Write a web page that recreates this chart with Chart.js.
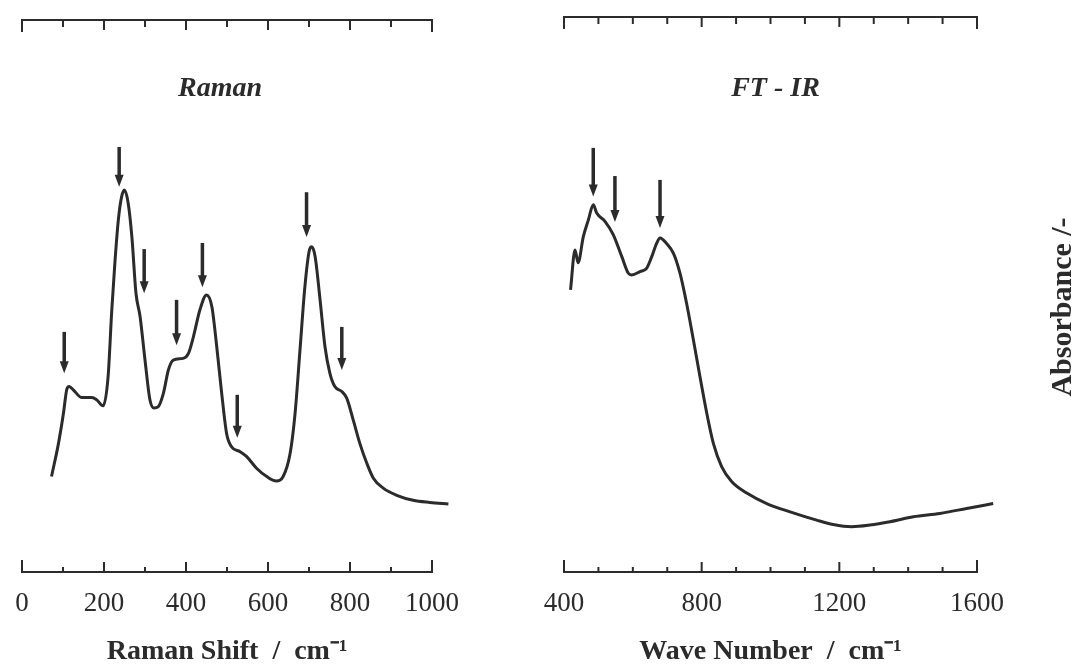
<!DOCTYPE html>
<html>
<head>
<meta charset="utf-8">
<title>Raman / FT-IR spectra</title>
<script src="https://cdn.jsdelivr.net/npm/chart.js@4.4.1/dist/chart.umd.min.js"></script>
<style>
  html, body { margin: 0; padding: 0; background: #fff; }
  #wrap { position: relative; width: 1078px; height: 666px; overflow: hidden; }
  .panel { position: absolute; top: 0; }
  #ramanBox { left: 0; }
  #irBox { left: 540px; }
</style>
</head>
<body>
<div id="wrap">
  <div class="panel" id="ramanBox"><canvas id="ramanChart" width="540" height="666"></canvas></div>
  <div class="panel" id="irBox"><canvas id="irChart" width="538" height="666"></canvas></div>
</div>
<script>
// Raman spectrum (arbitrary intensity, 0-100 of the plot height)
const ramanShift = [72, 89, 101, 109, 115, 125, 146, 170, 182, 198,
  210, 219, 227, 235, 243, 250, 259, 268, 278, 288,
  300, 312, 322, 332, 345, 357, 369, 393, 406, 418,
  434, 450, 463, 475, 487, 499, 511, 532, 548, 572,
  597, 620, 637, 654, 666, 678, 690, 701, 707, 715,
  727, 739, 751, 763, 780, 792, 808, 824, 841, 857,
  881, 914, 954, 995, 1040];
const ramanIntensity = [17.3, 23.3, 28.7, 33.0, 33.6, 33.0, 31.6, 31.6, 31.2, 30.1,
  35.4, 47.5, 56.5, 63.8, 68.0, 69.2, 66.8, 60.7, 50.5, 46.3,
  38.4, 31.2, 29.7, 29.9, 32.4, 36.6, 38.4, 38.7, 39.6, 42.6,
  47.5, 50.2, 48.1, 40.8, 32.4, 25.1, 22.7, 21.8, 20.9, 18.8,
  17.3, 16.5, 17.3, 21.5, 28.7, 40.2, 51.7, 58.3, 58.9, 57.1,
  49.3, 40.8, 36.0, 33.6, 32.7, 31.5, 27.5, 23.3, 19.7, 17.0,
  15.2, 13.9, 13.0, 12.6, 12.3];
// peak markers: position, arrow top, arrow tip
const ramanArrowX = [103, 237, 298, 377, 440, 525, 694, 780];
const ramanArrowTop = [43.5, 77.0, 58.5, 49.3, 59.6, 32.1, 68.8, 44.4];
const ramanArrowTip = [36.0, 69.8, 50.5, 41.1, 51.6, 24.3, 60.7, 36.6];

// FT-IR spectrum
const irWavenumber = [419, 432, 441, 456, 471, 485, 495, 519, 543, 568,
  587, 597, 621, 640, 655, 669, 679, 698, 718, 737,
  756, 776, 795, 815, 834, 858, 887, 931, 989, 1057,
  1134, 1182, 1236, 1289, 1347, 1415, 1492, 1570, 1647];
const irAbsorbance = [51.1, 58.3, 56.0, 60.7, 63.8, 66.5, 65.0, 63.5, 61.1, 57.1,
  54.1, 53.8, 54.4, 55.0, 57.1, 59.5, 60.5, 59.5, 57.7, 54.1,
  48.7, 42.0, 35.4, 28.7, 23.3, 19.1, 16.4, 14.3, 12.4, 10.9,
  9.4, 8.6, 8.2, 8.5, 9.1, 10.0, 10.6, 11.5, 12.4];
const irArrowX = [485, 548, 679];
const irArrowTop = [76.8, 71.7, 71.0];
const irArrowTip = [68.0, 63.4, 62.3];

const ink = '#2b2b2b';
const serif = "'Liberation Serif', 'Times New Roman', serif";

// tick marks pointing into the plot, like the printed figure
function tickMarks(majorEvery) {
  return {
    id: 'tickMarks',
    afterDraw(chart) {
      const ctx = chart.ctx;
      ctx.save();
      ctx.strokeStyle = ink;
      ctx.lineWidth = 2;
      ['x', 'x2'].forEach(id => {
        const s = chart.scales[id];
        const bottom = s.position === 'bottom';
        const y0 = bottom ? s.top : s.bottom;
        s.ticks.forEach((t, i) => {
          const px = s.getPixelForValue(t.value);
          const isEnd = i === 0 || i === s.ticks.length - 1;
          const len = isEnd ? 12 : (t.value % majorEvery === 0 ? 10 : (bottom ? 5 : 7));
          ctx.beginPath();
          ctx.moveTo(px, y0);
          ctx.lineTo(px, bottom ? y0 - len : y0 + len);
          ctx.stroke();
        });
      });
      ctx.restore();
    }
  };
}

function peakArrows(xs, tops, tips) {
  return {
    id: 'peakArrows',
    afterDatasetsDraw(chart) {
      const { ctx, scales: { x, y } } = chart;
      ctx.save();
      ctx.strokeStyle = ink;
      ctx.fillStyle = ink;
      xs.forEach((v, i) => {
        const px = x.getPixelForValue(v);
        const top = y.getPixelForValue(tops[i]);
        const tip = y.getPixelForValue(tips[i]);
        const head = 12;
        ctx.lineWidth = 3.5;
        ctx.beginPath();
        ctx.moveTo(px, top);
        ctx.lineTo(px, tip - head + 2);
        ctx.stroke();
        ctx.beginPath();
        ctx.moveTo(px - 4.5, tip - head);
        ctx.lineTo(px + 4.5, tip - head);
        ctx.lineTo(px, tip);
        ctx.closePath();
        ctx.fill();
      });
      ctx.restore();
    }
  };
}

function panelText(title, titleShift, sideLabel) {
  return {
    id: 'panelText',
    afterDraw(chart) {
      const { ctx, chartArea } = chart;
      ctx.save();
      ctx.fillStyle = ink;
      ctx.textAlign = 'center';
      ctx.textBaseline = 'middle';
      ctx.font = `italic bold 28px ${serif}`;
      ctx.fillText(title, (chartArea.left + chartArea.right) / 2 + titleShift, 89);
      if (sideLabel) {
        ctx.translate(chartArea.right + 86, 307);
        ctx.rotate(-Math.PI / 2);
        ctx.font = `bold 30px ${serif}`;
        ctx.fillText(sideLabel, 0, 0);
      }
      ctx.restore();
    }
  };
}

function makeChart(canvasId, cfg) {
  const points = cfg.xs.map((v, i) => ({ x: v, y: cfg.ys[i] }));
  return new Chart(document.getElementById(canvasId), {
    type: 'line',
    data: {
      datasets: [{
        data: points,
        borderColor: ink,
        borderWidth: 3,
        pointRadius: 0,
        fill: false,
        cubicInterpolationMode: 'monotone',
        clip: false
      }]
    },
    options: {
      responsive: false,
      animation: false,
      events: [],
      layout: { padding: { left: cfg.padLeft, right: cfg.padRight, top: 0, bottom: 0 } },
      plugins: { legend: { display: false }, tooltip: { enabled: false } },
      scales: {
        x: {
          type: 'linear',
          position: 'bottom',
          min: cfg.min,
          max: cfg.max,
          grid: { display: false, drawTicks: false },
          border: { display: true, color: ink, width: 2 },
          ticks: {
            stepSize: 100,
            autoSkip: false,
            maxRotation: 0,
            padding: 16,
            color: ink,
            font: { family: serif, size: 27 },
            callback: v => (v % cfg.labelEvery === 0 ? String(v) : '')
          },
          title: {
            display: true,
            text: cfg.xTitle,
            color: ink,
            font: { family: serif, size: 28, weight: 'bold', lineHeight: 1 },
            padding: { top: 0, bottom: 0 }
          },
          afterFit: s => {
            s.height = 94;
            s.paddingLeft = 0;
            s.paddingRight = 0;
          }
        },
        x2: {
          type: 'linear',
          position: 'top',
          min: cfg.min,
          max: cfg.max,
          grid: { display: false, drawTicks: false },
          border: { display: true, color: ink, width: 2 },
          ticks: { display: false, stepSize: 100 },
          afterFit: s => { s.height = cfg.top; }
        },
        y: { display: false, min: 0, max: cfg.yMax }
      }
    },
    plugins: [
      tickMarks(cfg.labelEvery),
      peakArrows(cfg.arrowX, cfg.arrowTop, cfg.arrowTip),
      panelText(cfg.title, cfg.titleShift, cfg.sideLabel)
    ]
  });
}

makeChart('ramanChart', {
  xs: ramanShift, ys: ramanIntensity,
  min: 0, max: 1000, labelEvery: 200,
  padLeft: 22, padRight: 108, top: 20, yMax: 100,
  xTitle: 'Raman Shift  /  cm\u207B\u00B9',
  title: 'Raman', titleShift: -7,
  arrowX: ramanArrowX, arrowTop: ramanArrowTop, arrowTip: ramanArrowTip
});

makeChart('irChart', {
  xs: irWavenumber, ys: irAbsorbance,
  min: 400, max: 1600, labelEvery: 400,
  padLeft: 24, padRight: 101, top: 17, yMax: 100.5,
  xTitle: 'Wave Number  /  cm\u207B\u00B9',
  title: 'FT - IR', titleShift: 5,
  sideLabel: 'Absorbance /-',
  arrowX: irArrowX, arrowTop: irArrowTop, arrowTip: irArrowTip
});
</script>
</body>
</html>
